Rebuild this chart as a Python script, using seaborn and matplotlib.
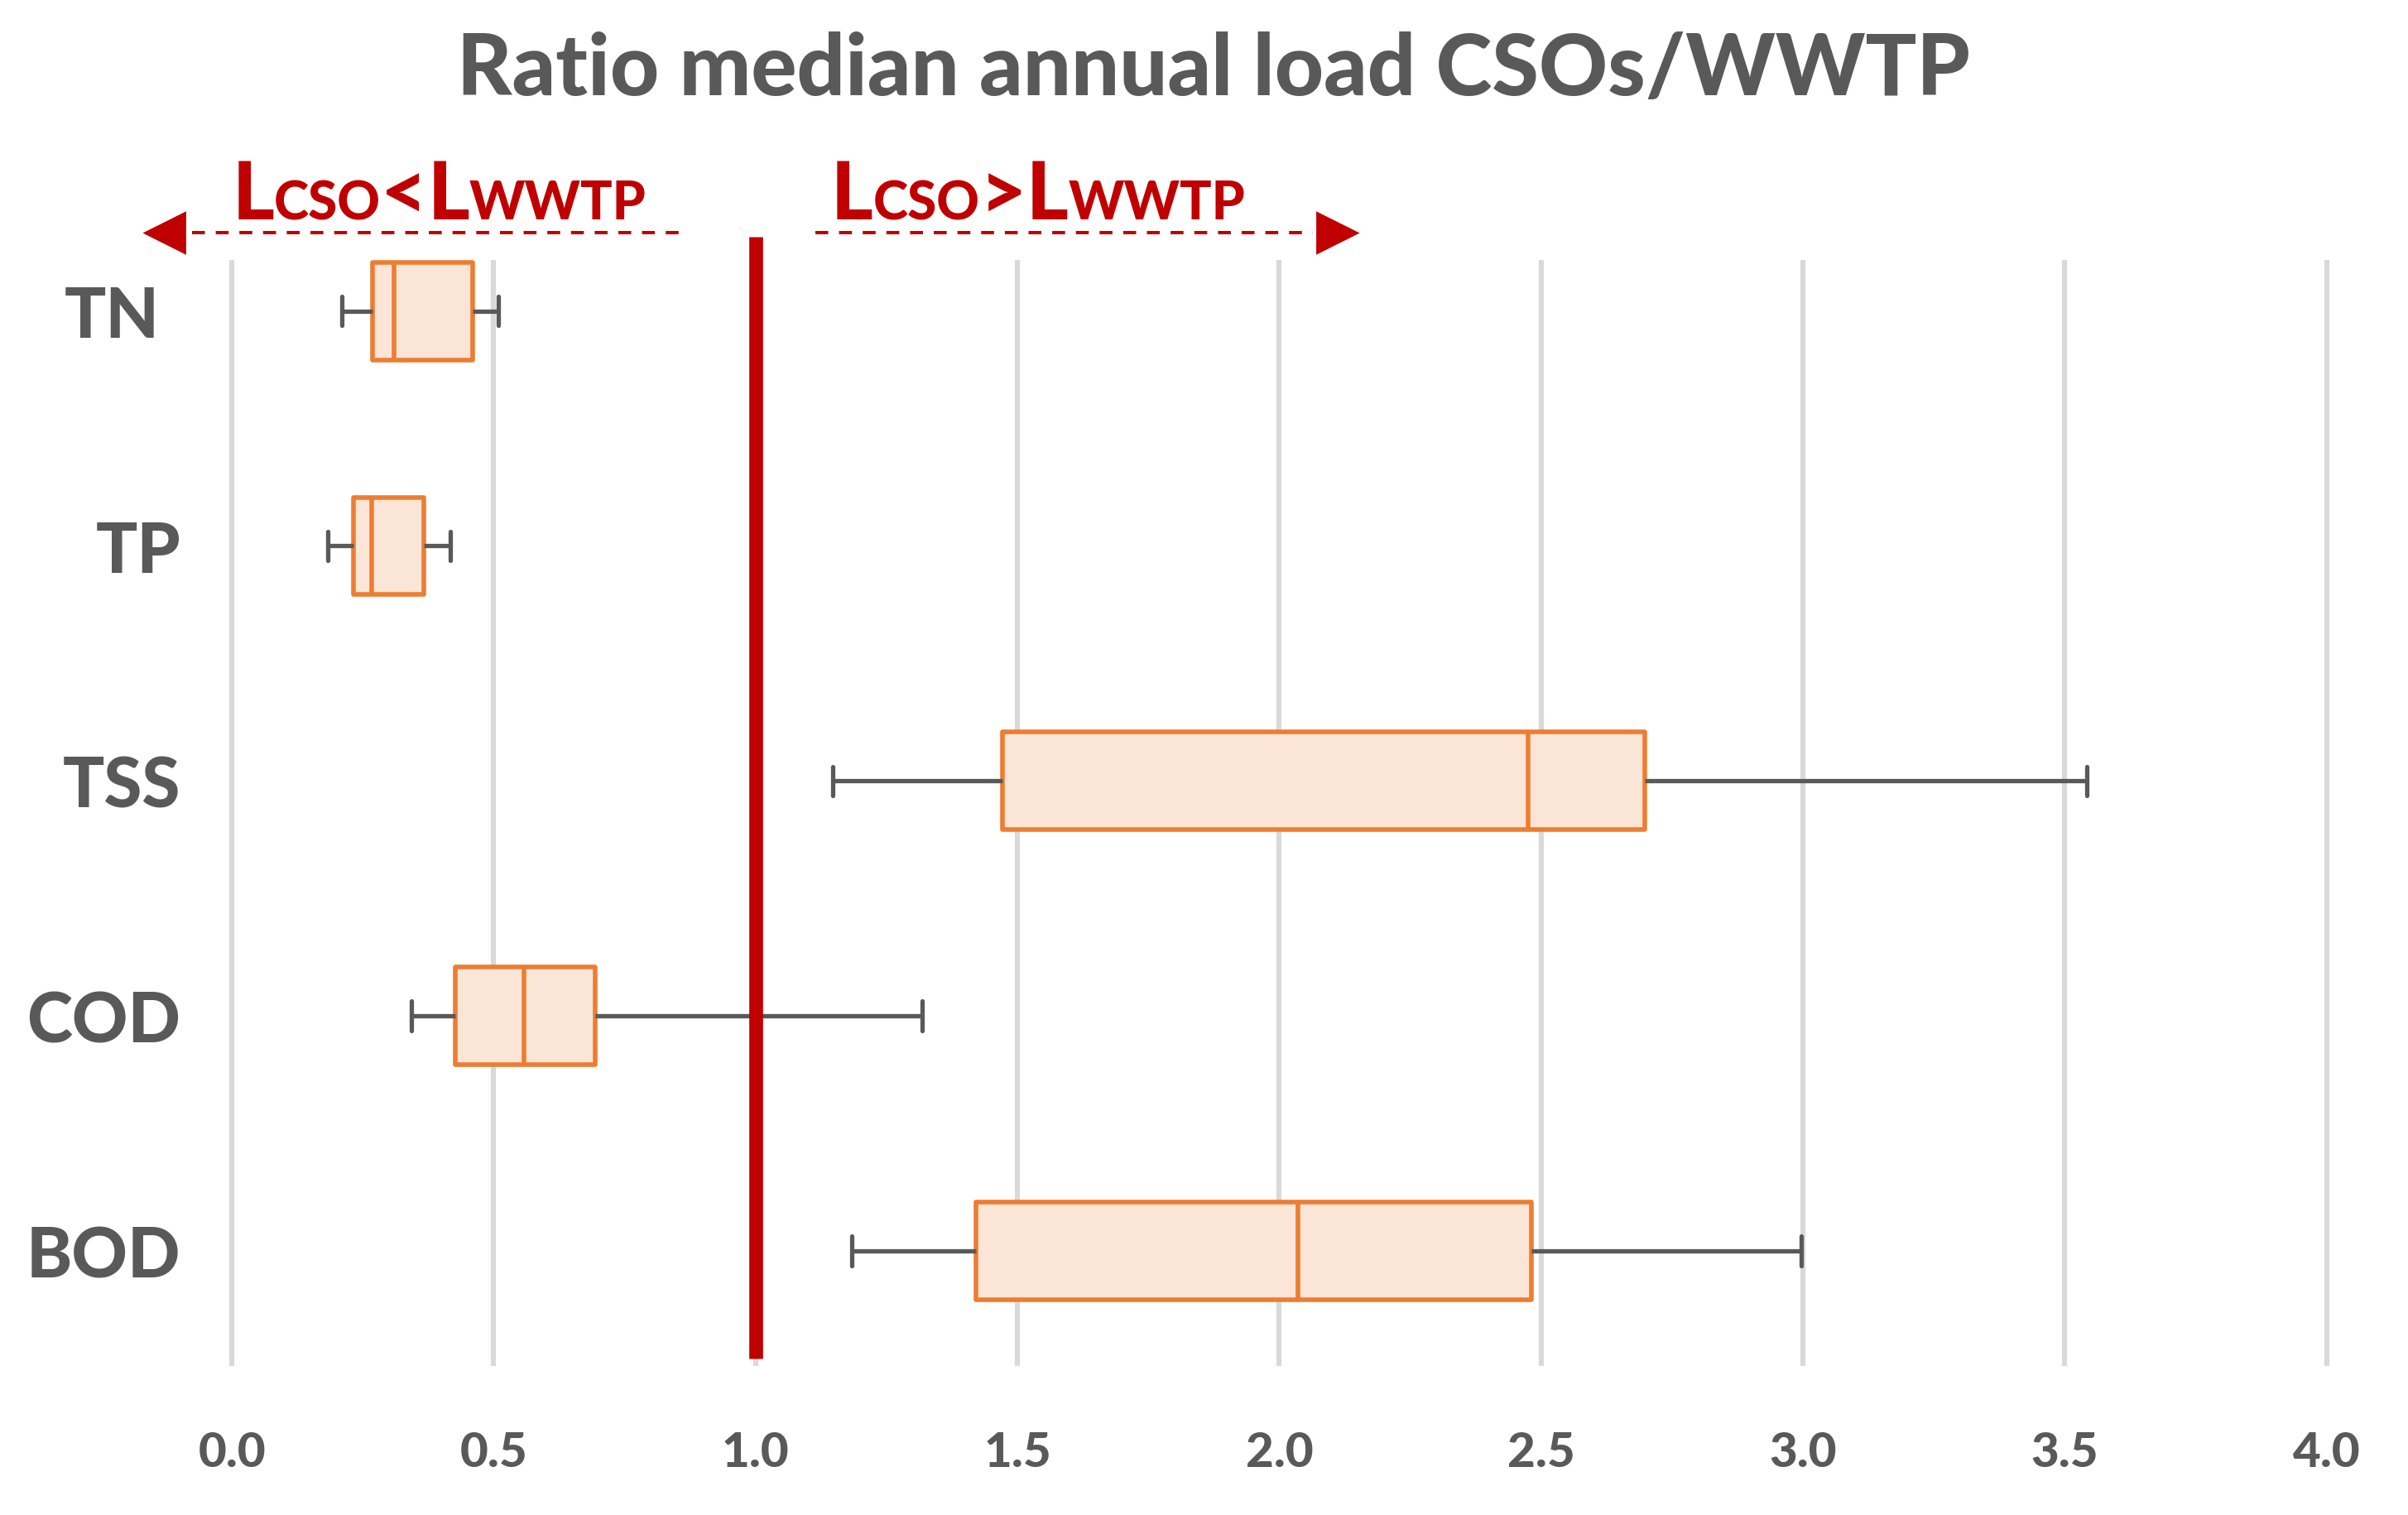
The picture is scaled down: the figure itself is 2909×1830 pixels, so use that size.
import numpy as np
import pandas as pd
import matplotlib
matplotlib.use("Agg")
import matplotlib.pyplot as plt
import matplotlib.transforms as mtransforms
import seaborn as sns

# ---- data ----
categories = ["TN", "TP", "TSS", "COD", "BOD"]
whisker_low = [0.210, 0.183, 1.147, 0.343, 1.184]
q1 = [0.269, 0.232, 1.471, 0.427, 1.421]
median = [0.309, 0.267, 2.475, 0.558, 2.036]
q3 = [0.459, 0.366, 2.698, 0.693, 2.481]
whisker_high = [0.508, 0.417, 3.542, 1.318, 2.996]
x_ticks = [0.0, 0.5, 1.0, 1.5, 2.0, 2.5, 3.0, 3.5, 4.0]
title = "Ratio median annual load CSOs/WWTP"

rows = []
for i, c in enumerate(categories):
    for v in (whisker_low[i], q1[i], median[i], q3[i], whisker_high[i]):
        rows.append({"param": c, "ratio": v})
df = pd.DataFrame(rows)

sns.set_theme(style="white")
FONT = ["Lato", "DejaVu Sans"]
plt.rcParams["font.family"] = FONT

GRAY = "#595959"
ORANGE = "#ED7D31"
PEACH = "#FAE5D7"
RED = "#C00000"

fig = plt.figure(figsize=(14.545, 9.155), dpi=200)
ax = fig.add_axes([0.0789, 0.0983, 0.988 - 0.0789, 0.8278 - 0.0983])

sns.boxplot(data=df, x="ratio", y="param", order=categories, ax=ax,
            whis=(0, 100), width=0.415, saturation=1, color=PEACH,
            linecolor=ORANGE, linewidth=2.0, capwidths=0.125,
            boxprops=dict(facecolor=PEACH, edgecolor=ORANGE, linewidth=2.0,
                          joinstyle="round"),
            medianprops=dict(color=ORANGE, linewidth=2.0),
            whiskerprops=dict(color=GRAY, linewidth=1.9),
            capprops=dict(color=GRAY, linewidth=1.9),
            showfliers=False)

ax.set_xlim(-0.08, 4.1)
ax.set_ylim(4.49, -0.216)
ax.set_xticks(x_ticks)
ax.set_xticklabels([f"{t:.1f}" for t in x_ticks])
ax.set_xlabel("")
ax.set_ylabel("")
for s in ax.spines.values():
    s.set_visible(False)
ax.grid(axis="x", color="#D9D9D9", linewidth=2.2)
ax.grid(axis="y", visible=False)
ax.set_axisbelow(True)
ax.tick_params(axis="x", length=0, pad=28, labelsize=21, labelcolor=GRAY)
ax.tick_params(axis="y", length=0, pad=4, labelsize=30, labelcolor=GRAY)
for lab in ax.get_xticklabels() + ax.get_yticklabels():
    lab.set_fontweight("black")
    lab.set_family(FONT)
# the "TN" label sits a little further left in the reference
for lab in ax.get_yticklabels():
    if lab.get_text() == "TN":
        lab.set_transform(lab.get_transform() +
                          mtransforms.ScaledTranslation(-26 / 200, 0,
                                                        fig.dpi_scale_trans))

# threshold line at ratio = 1
ax.vlines(1.0, -0.314, 4.458, color=RED, linewidth=6, clip_on=False, zorder=6)

# arrows
ax.plot([-0.076, 0.868], [-0.333, -0.333], color=RED, linewidth=1.45,
        dashes=[5.6 / 1.45, 4.7 / 1.45], clip_on=False)
ax.plot([1.114, 2.064], [-0.333, -0.333], color=RED, linewidth=1.45,
        dashes=[5.6 / 1.45, 4.7 / 1.45], clip_on=False)
ax.plot([-0.128], [-0.333], marker="<", markersize=17, color=RED,
        linestyle="none", clip_on=False)
ax.plot([2.110], [-0.333], marker=">", markersize=17, color=RED,
        linestyle="none", clip_on=False)


def rich_text(x, y, parts):
    renderer = fig.canvas.get_renderer()
    t = ax.transData
    for s, size in parts:
        txt = ax.text(x, y, s, transform=t, fontsize=size, color=RED,
                      fontweight="black", family=FONT, ha="left",
                      va="baseline", clip_on=False)
        txt.draw(renderer)
        ex = txt.get_window_extent(renderer)
        t = mtransforms.offset_copy(txt.get_transform(), x=ex.width,
                                    units="dots", fig=fig)


BIG, SMALL = 35, 23
rich_text(0.0, -0.392, [("L", BIG), ("CSO", SMALL), ("<", BIG),
                        ("L", BIG), ("WWTP", SMALL)])
rich_text(1.144, -0.392, [("L", BIG), ("CSO", SMALL), (">", BIG),
                          ("L", BIG), ("WWTP", SMALL)])

fig.text(0.504, 0.937, title, ha="center", va="baseline", fontsize=37,
         fontweight="black", color=GRAY, family=FONT)

fig.savefig("out.png", dpi=200)
